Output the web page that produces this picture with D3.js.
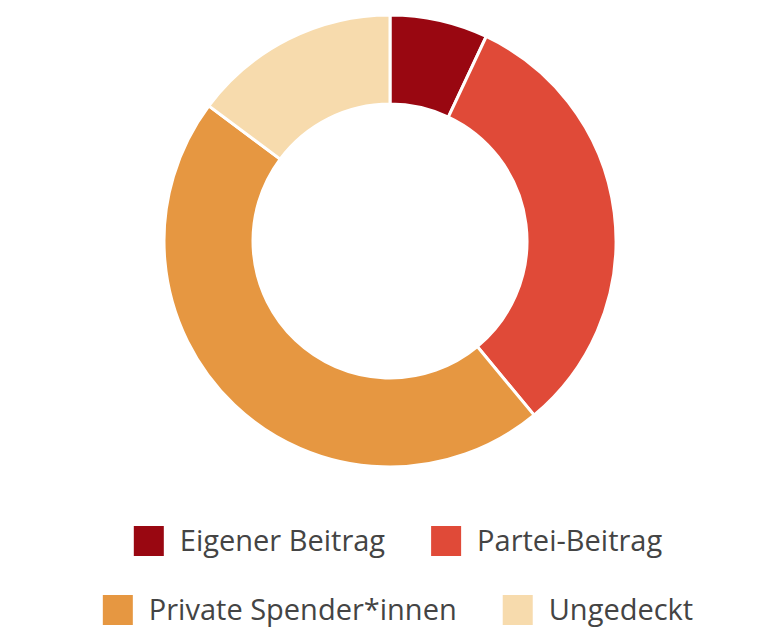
<!DOCTYPE html>
<html><head><meta charset="utf-8">
<script src="https://cdn.jsdelivr.net/npm/d3@7"></script>
<style>body{margin:0;background:#fff}</style>
</head><body>
<svg id="chart" width="776" height="644"></svg>
<script>
const labels = ['Eigener Beitrag', 'Partei-Beitrag', 'Private Spender*innen', 'Ungedeckt'];
const values = [7, 32, 46.2, 14.8];
const colors = ['#990711', '#e04a38', '#e69741', '#f7dbad'];
const legendRows = [[0, 1], [2, 3]];

const svg = d3.select('#chart');
const cx = 390, cy = 241, outerR = 226, innerR = 137;

const pie = d3.pie().sort(null).value(d => d)(values);
const arc = d3.arc().innerRadius(innerR).outerRadius(outerR);

svg.append('g').attr('transform', `translate(${cx},${cy})`)
  .selectAll('path').data(pie).join('path')
  .attr('d', arc)
  .attr('fill', (d, i) => colors[i])
  .attr('stroke', '#fff').attr('stroke-width', 3);

// legend, each row centered
const rowY = [541, 610];
legendRows.forEach((row, r) => {
  const g = svg.append('g');
  let x = 0;
  row.forEach(i => {
    g.append('rect').attr('x', x).attr('y', rowY[r] - 15).attr('width', 30).attr('height', 30).attr('fill', colors[i]);
    const t = g.append('text').attr('x', x + 46).attr('y', rowY[r] + 10)
      .attr('font-family', 'Open Sans, sans-serif').attr('font-size', 29).attr('fill', '#444')
      .text(labels[i]);
    x += 46 + t.node().getComputedTextLength() + 46;
  });
  const w = x - 46;
  g.attr('transform', `translate(${(776 - w) / 2 + 10},0)`);
});
</script>
</body></html>
